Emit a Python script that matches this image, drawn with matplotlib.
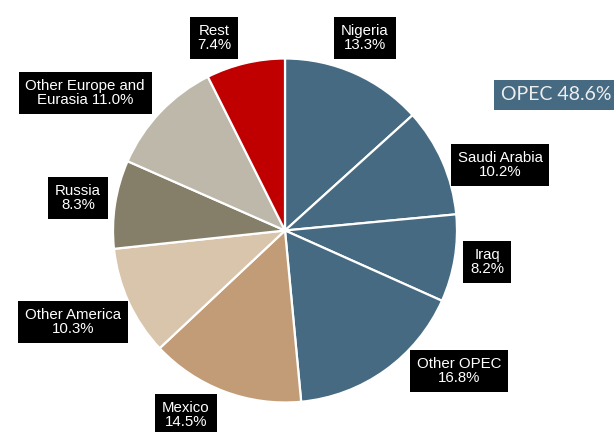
import matplotlib
matplotlib.use("Agg")
import matplotlib.pyplot as plt

# shares of world production, clockwise from 12 o'clock
names = ["Nigeria", "Saudi Arabia", "Iraq", "Other OPEC", "Mexico",
         "Other America", "Russia", "Other Europe and\nEurasia", "Rest"]
shares = [13.3, 10.2, 8.2, 16.8, 14.5, 10.3, 8.3, 11.0, 7.4]
opec_total = 48.6

OPEC_BLUE = "#456A82"
colors = [OPEC_BLUE, OPEC_BLUE, OPEC_BLUE, OPEC_BLUE,
          "#C19C76", "#D9C5AB", "#857F69", "#BDB8AA", "#C00000"]

# label box centres in pixel coords (x, y from top)
label_pos = [(365, 38), (500, 165), (487, 262), (459, 371), (186, 415),
             (73, 322), (78, 198), (85, 93), (214, 38)]

W, H = 614, 432
fig = plt.figure(figsize=(W / 100, H / 100), dpi=100)
ax = fig.add_axes([0, 0, 1, 1])

ax.pie(shares, colors=colors, startangle=90, counterclock=False,
       center=(285, H - 230.5), radius=172, frame=True,
       wedgeprops=dict(edgecolor="white", linewidth=1.6))
ax.set_xlim(0, W)
ax.set_ylim(0, H)
ax.set_aspect("equal")
ax.axis("off")

for name, val, (px, py) in zip(names, shares, label_pos):
    if "\n" in name:
        txt = f"{name} {val:.1f}%"
    else:
        txt = f"{name}\n{val:.1f}%"
    ax.text(px, H - py, txt, ha="center", va="center", color="white",
            fontsize=10.8, family="Liberation Sans", linespacing=1.0,
            bbox=dict(boxstyle="square,pad=0.45", fc="black", ec="none"))

ax.text(556, H - 95, f"OPEC {opec_total}%", ha="center", va="center",
        color="#EEEEEE", fontsize=14, family="Lato",
        bbox=dict(boxstyle="square,pad=0.35", fc=OPEC_BLUE, ec="none"))

fig.savefig("out.png", dpi=100)
